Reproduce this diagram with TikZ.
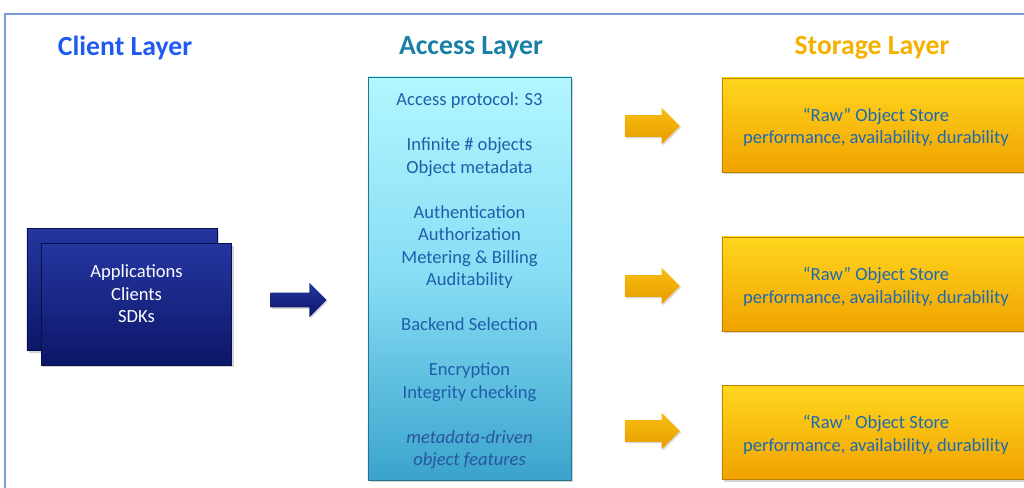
\documentclass[tikz,border=0pt]{standalone}
\usepackage{fontspec}
\setmainfont{Carlito}
\usetikzlibrary{shapes.arrows,shadows}

\definecolor{framecol}{HTML}{7C9AD6}
\definecolor{clienttitle}{HTML}{1F5BF0}
\definecolor{accesstitle}{HTML}{1A7FA6}
\definecolor{storagetitle}{HTML}{F5B000}
\definecolor{navytop}{HTML}{2536A0}
\definecolor{navybot}{HTML}{0C1668}
\definecolor{cyantop}{HTML}{B2F6FF}
\definecolor{cyanmid}{HTML}{86DDF4}
\definecolor{cyanbot}{HTML}{3AA3CC}
\definecolor{goldtop}{HTML}{FFD61E}
\definecolor{goldbot}{HTML}{F0A200}
\definecolor{arrowtop}{HTML}{F8BE10}
\definecolor{arrowbot}{HTML}{E89C00}
\definecolor{bodytext}{HTML}{1E5EAA}
\definecolor{featuretext}{HTML}{2B55A0}
\definecolor{storetext}{HTML}{1D6AB0}

\tikzset{
  title/.style={font=\fontsize{19.7}{24}\selectfont\bfseries},
  body/.style={font=\fontsize{13.2}{16}\selectfont, align=center, inner sep=0pt},
  clientbox/.style={draw=navybot!70!black, top color=navytop, bottom color=navybot,
    minimum width=4.75cm, minimum height=3.04cm, inner sep=0pt,
    drop shadow={opacity=0.35, shadow xshift=0.5mm, shadow yshift=-0.6mm}},
  accessbox/.style={draw=cyanbot!70!black, top color=cyantop, bottom color=cyanbot,
    middle color=cyanmid, minimum width=5.075cm, minimum height=10.075cm, inner sep=0pt,
    drop shadow={opacity=0.35, shadow xshift=0.5mm, shadow yshift=-0.6mm}},
  storebox/.style={draw=goldbot!80!black, top color=goldtop, bottom color=goldbot,
    minimum width=7.7cm, minimum height=2.35cm, inner sep=0pt,
    drop shadow={opacity=0.35, shadow xshift=0.5mm, shadow yshift=-0.6mm}},
  blockarrow/.style={single arrow, inner xsep=0pt, minimum width=0pt,
    single arrow head indent=0pt,
    drop shadow={opacity=0.3, shadow xshift=0.3mm, shadow yshift=-0.4mm}},
  bluearrow/.style={blockarrow, top color=navytop, bottom color=navybot,
    minimum height=1.4cm, inner ysep=0.175cm, single arrow head extend=0.25cm},
  goldarrow/.style={blockarrow, top color=arrowtop, bottom color=arrowbot,
    minimum height=1.375cm, inner ysep=0.2625cm, single arrow head extend=0.1875cm},
}

\begin{document}
\begin{tikzpicture}[x=0.025cm, y=-0.025cm]
    %%%%% START %%%%%
    \useasboundingbox (0,0) rectangle (1024,487);
    \clip (0,0) rectangle (1024,487);

    % frame
    \draw[framecol, line width=1.1pt] (5,14) rectangle (1040,500);

    % layer titles
    \node[title, text=clienttitle] (clienttitle) at (125,47.5) {Client Layer};
    \node[title, text=accesstitle] (accesstitle) at (471,47.5) {Access Layer};
    \node[title, text=storagetitle] (storagetitle) at (872,47.5) {Storage Layer};

    % client layer
    \node[clientbox] (clientback) at (122,289.5) {};
    \node[clientbox] (clientfront) at (136.5,304) {};
    \node[body, text=white] (clienttext) at (136.5,294)
        {Applications\\Clients\\SDKs};

    \node[bluearrow] (clientarrow) at (295,300) {};

    % access layer
    \node[accessbox] (access) at (469.5,278.5) {};
    \node[body, text=bodytext] (accesstext) at (469.5,281)
        {Access protocol: S3\\[16pt]
         Infinite \# objects\\Object metadata\\[16pt]
         Authentication\\Authorization\\Metering \& Billing\\Auditability\\[16pt]
         Backend Selection\\[16pt]
         Encryption\\Integrity checking\\[16pt]
         \color{featuretext}\itshape metadata-driven\\
         \color{featuretext}\itshape object features};

    % storage layer
    \node[goldarrow] (storearrowa) at (647,126) {};
    \node[goldarrow] (storearrowb) at (647,286) {};
    \node[goldarrow] (storearrowc) at (647,431) {};

    \node[storebox] (storea) at (876,125) {};
    \node[storebox] (storeb) at (876,284) {};
    \node[storebox] (storec) at (876,432.5) {};
    \node[body, text=storetext] (storetexta) at (876,127.5) {“Raw” Object Store\\performance, availability, durability};
    \node[body, text=storetext] (storetextb) at (876,287) {“Raw” Object Store\\performance, availability, durability};
    \node[body, text=storetext] (storetextc) at (876,435) {“Raw” Object Store\\performance, availability, durability};
    %%%%% END %%%%%
\end{tikzpicture}
\end{document}
